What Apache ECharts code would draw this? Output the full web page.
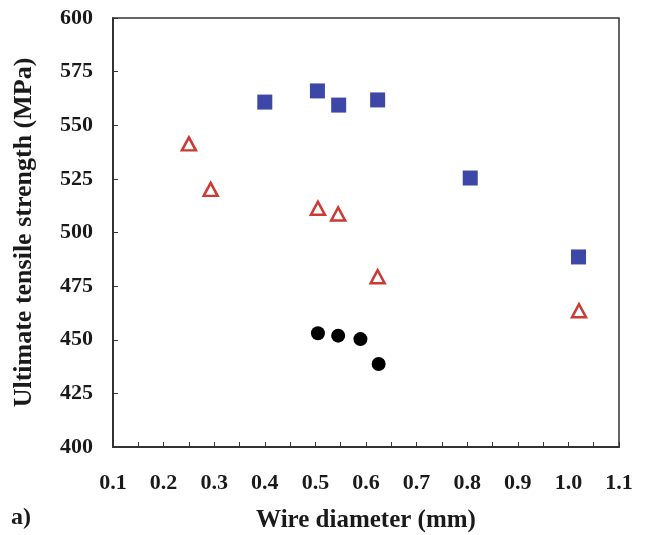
<!DOCTYPE html>
<html>
<head>
<meta charset="utf-8">
<script src="https://cdn.jsdelivr.net/npm/echarts@6/dist/echarts.min.js"></script>
<style>
html,body{margin:0;padding:0;background:#fff;}
#c{width:645px;height:535px;}
</style>
</head>
<body>
<div id="c"></div>
<script>
var squaresX = [0.40, 0.504, 0.546, 0.623, 0.806, 1.02];
var squaresY = [560.8, 566.0, 559.4, 561.8, 525.4, 488.6];
var trianglesX = [0.250, 0.293, 0.505, 0.545, 0.623, 1.021];
var trianglesY = [541.3, 520.1, 511.3, 508.6, 479.4, 463.5];
var circlesX = [0.505, 0.545, 0.589, 0.625];
var circlesY = [453.0, 451.9, 450.3, 438.7];
var xTitle = 'Wire diameter (mm)';
var yTitle = 'Ultimate tensile strength (MPa)';
var panelLabel = 'a)';

function pairs(xs, ys){ return xs.map(function(x,i){ return [x, ys[i]]; }); }

var font = '"Liberation Serif", "Times New Roman", serif';
var chart = echarts.init(document.getElementById('c'));
chart.setOption({
  animation: false,
  backgroundColor: '#fff',
  grid: {left: 113, right: 26, top: 18, bottom: 88, containLabel: false, outerBoundsMode: 'none',
         show: true, borderColor: '#333', borderWidth: 1.5, backgroundColor: 'transparent'},
  xAxis: {
    type: 'value', min: 0.1, max: 1.1, interval: 0.1,
    name: xTitle, nameLocation: 'middle', nameGap: 61,
    nameTextStyle: {fontFamily: font, fontWeight: 'bold', fontSize: 25, color: '#1a1a1a'},
    axisLine: {show: true, lineStyle: {color: '#333', width: 2}},
    axisTick: {show: true, inside: true, length: 5, lineStyle: {color: '#333', width: 1}},
    minorTick: {show: true, splitNumber: 2, length: 5, lineStyle: {color: '#333', width: 1}},
    axisLabel: {margin: 25, fontFamily: font, fontWeight: 'bold', fontSize: 22, color: '#1a1a1a',
      formatter: function(v){ return (Math.round(v*10)/10).toFixed(1); }},
    splitLine: {show: false}
  },
  yAxis: {
    type: 'value', min: 400, max: 600, interval: 25,
    name: yTitle, nameLocation: 'middle', nameGap: 76, nameRotate: 90,
    nameTextStyle: {fontFamily: font, fontWeight: 'bold', fontSize: 26, color: '#1a1a1a'},
    axisLine: {show: true, lineStyle: {color: '#333', width: 2}},
    axisTick: {show: true, inside: true, length: 5, lineStyle: {color: '#333', width: 1}},
    axisLabel: {margin: 20, fontFamily: font, fontWeight: 'bold', fontSize: 22, color: '#1a1a1a'},
    splitLine: {show: false}
  },
  graphic: [{type: 'text', left: 11, top: 506, style: {text: panelLabel, font: 'bold 24px "Liberation Serif", serif', fill: '#1a1a1a'}}],
  series: [
    {type: 'scatter', data: pairs(squaresX, squaresY), symbol: 'rect', symbolSize: 15,
     itemStyle: {color: '#3d47a8', opacity: 1}},
    {type: 'scatter', data: pairs(trianglesX, trianglesY), symbol: 'triangle', symbolSize: [14, 13],
     itemStyle: {color: '#fff', borderColor: '#cc3a33', borderWidth: 2.5, opacity: 1}},
    {type: 'scatter', data: pairs(circlesX, circlesY), symbol: 'circle', symbolSize: 14,
     itemStyle: {color: '#000', opacity: 1}}
  ]
});
</script>
</body>
</html>
